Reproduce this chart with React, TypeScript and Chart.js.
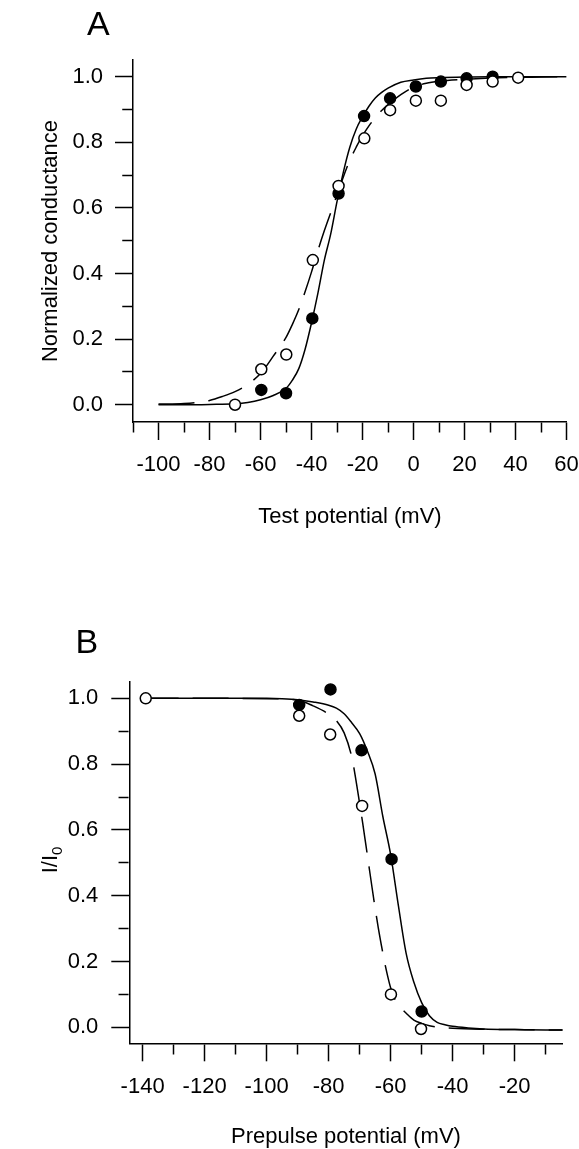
import React, { useEffect, useRef } from "react";
import { Chart, registerables } from "chart.js";

Chart.register(...registerables);

const FONT = "'Liberation Sans', Arial, Helvetica, sans-serif";

// ---------------- Panel A: conductance vs test potential ----------------
const aClosedV = [-59.7, -50, -39.7, -29.4, -19.4, -9.2, 0.9, 10.7, 20.8, 31];
const aClosedG = [0.045, 0.035, 0.263, 0.644, 0.88, 0.934, 0.97, 0.985, 0.995, 1.0];
const aOpenV = [-70, -59.7, -49.9, -39.5, -29.4, -19.3, -9.2, 0.9, 10.7, 20.8, 31, 41];
const aOpenG = [0.0, 0.108, 0.153, 0.441, 0.667, 0.812, 0.898, 0.927, 0.927, 0.975, 0.985, 0.997];

const aFitSolidV = [-100, -90, -80, -70, -65, -60, -55, -50, -47.5, -45, -42.5, -40, -37.5, -35, -32.5, -30, -27.5, -25, -22.5, -20, -17.5, -15, -12.5, -10, -5, 0, 5, 10, 20, 30, 40, 50, 60];
const aFitSolidG = [0.0, 0.0, 0.001, 0.003, 0.007, 0.015, 0.028, 0.05, 0.075, 0.11, 0.17, 0.25, 0.34, 0.44, 0.52, 0.62, 0.71, 0.785, 0.84, 0.878, 0.91, 0.935, 0.952, 0.965, 0.983, 0.99, 0.995, 0.997, 0.999, 1.0, 1.0, 1.0, 1.0];

const aFitDashV = [-100, -90, -85, -80, -75, -70, -65, -60, -57.5, -55, -50, -47.5, -45, -42.5, -40, -37.5, -35, -32.5, -30, -27.5, -25, -22.5, -20, -17.5, -15, -12.5, -10, -5, 0, 5, 10, 20, 30, 40, 50, 60];
const aFitDashG = [0.002, 0.004, 0.007, 0.013, 0.025, 0.04, 0.062, 0.095, 0.12, 0.148, 0.205, 0.245, 0.29, 0.345, 0.405, 0.47, 0.53, 0.585, 0.64, 0.695, 0.745, 0.785, 0.82, 0.85, 0.875, 0.897, 0.915, 0.945, 0.968, 0.98, 0.986, 0.992, 0.996, 0.998, 0.999, 1.0];

const aXLabels = [-100, -80, -60, -40, -20, 0, 20, 40, 60];
const aYLabels = [0, 0.2, 0.4, 0.6, 0.8, 1.0];

// ---------------- Panel B: I/I0 vs prepulse potential ----------------
const bOpenV = [-139, -89.5, -79.5, -69.2, -59.9, -50.2];
const bOpenR = [1.0, 0.947, 0.89, 0.673, 0.1, -0.005];
const bClosedV = [-89.5, -79.4, -69.4, -59.7, -50];
const bClosedR = [0.98, 1.027, 0.842, 0.511, 0.048];

const bFitSolidV = [-140, -120, -100, -95, -90, -85, -80, -77.5, -75, -72.5, -70, -67.5, -65, -62.5, -60, -57.5, -55, -52.5, -50, -47.5, -45, -42.5, -40, -35, -30, -20, -10, -4.5];
const bFitSolidR = [1.0, 1.0, 1.0, 0.999, 0.996, 0.989, 0.979, 0.97, 0.953, 0.925, 0.893, 0.84, 0.77, 0.64, 0.525, 0.37, 0.225, 0.137, 0.075, 0.035, 0.015, 0.008, 0.003, -0.002, -0.005, -0.007, -0.008, -0.008];

const bFitDashV = [-140, -120, -100, -90, -85, -80, -77.5, -75, -72.5, -71, -70, -69, -68, -67, -66, -65, -64, -63, -62, -61, -60, -58.5, -57, -55, -52.5, -50, -47.5, -45, -40, -30, -20, -10, -4.5];
const bFitDashR = [1.0, 1.0, 0.999, 0.995, 0.977, 0.952, 0.932, 0.895, 0.82, 0.74, 0.68, 0.62, 0.555, 0.49, 0.425, 0.362, 0.303, 0.25, 0.2, 0.157, 0.12, 0.083, 0.063, 0.043, 0.022, 0.012, 0.005, 0.001, -0.003, -0.006, -0.007, -0.008, -0.008];

const bXLabels = [-140, -120, -100, -80, -60, -40, -20];
const bYLabels = [0, 0.2, 0.4, 0.6, 0.8, 1.0];

// ---------------------------------------------------------------------
const pts = (xs: number[], ys: number[]) => xs.map((x, i) => ({ x, y: ys[i] }));
const hasLabel = (v: number, labels: number[]) => labels.some((l) => Math.abs(l - v) < 1e-6);

interface PanelOpts {
  xMin: number; xMax: number; yMin: number; yMax: number;
  xLabels: number[]; yLabels: number[];
  yAxisWidth: number; xAxisHeight: number; padTop: number; padRight: number; yTickPad: number;
  openV: number[]; openY: number[]; closedV: number[]; closedY: number[];
  solidV: number[]; solidY: number[]; dashV: number[]; dashY: number[];
}

function makeConfig(o: PanelOpts): any {
  const tickFont = { family: FONT, size: 22 };
  return {
    type: "line",
    data: {
      datasets: [
        {
          data: pts(o.openV, o.openY), showLine: false, order: 0,
          pointRadius: 5.5, pointBorderWidth: 1.5, pointBackgroundColor: "#fff", pointBorderColor: "#000",
        },
        {
          data: pts(o.closedV, o.closedY), showLine: false, order: 1,
          pointRadius: 5.5, pointBorderWidth: 1.5, pointBackgroundColor: "#000", pointBorderColor: "#000",
        },
        {
          data: pts(o.solidV, o.solidY), order: 2, borderColor: "#000", borderWidth: 1.5,
          pointRadius: 0, cubicInterpolationMode: "monotone", fill: false,
        },
        {
          data: pts(o.dashV, o.dashY), order: 3, borderColor: "#000", borderWidth: 1.5,
          borderDash: [36, 14], pointRadius: 0, cubicInterpolationMode: "monotone", fill: false,
        },
      ],
    },
    options: {
      animation: false,
      responsive: false,
      devicePixelRatio: 1,
      events: [],
      layout: { padding: { left: 0, top: o.padTop, right: o.padRight, bottom: 0 } },
      plugins: { legend: { display: false }, tooltip: { enabled: false }, title: { display: false } },
      scales: {
        x: {
          type: "linear", min: o.xMin, max: o.xMax,
          ticks: {
            stepSize: 10, includeBounds: false, autoSkip: false, maxRotation: 0, minRotation: 0,
            padding: 12, color: "#000", font: tickFont,
            callback: (v: number) => (hasLabel(v, o.xLabels) ? String(Math.round(v)) : ""),
          },
          grid: {
            drawOnChartArea: false, drawTicks: true, tickLength: 18, tickWidth: 1.5, tickColor: "#000",
            tickBorderDash: (ctx: any) => (ctx.tick && !hasLabel(ctx.tick.value, o.xLabels) ? [10, 100] : []),
            tickBorderDashOffset: 0,
          },
          border: { display: true, color: "#000", width: 1.5 },
          title: { display: false },
          afterFit: (s: any) => { s.height = o.xAxisHeight; s.paddingLeft = 0; s.paddingRight = 0; },
        },
        y: {
          type: "linear", min: o.yMin, max: o.yMax,
          ticks: {
            stepSize: 0.1, includeBounds: false, autoSkip: false,
            padding: o.yTickPad, color: "#000", font: tickFont,
            callback: (v: number) => (hasLabel(v, o.yLabels) ? v.toFixed(1) : ""),
          },
          grid: {
            drawOnChartArea: false, drawTicks: true, tickLength: 18, tickWidth: 1.5, tickColor: "#000",
            tickBorderDash: (ctx: any) => (ctx.tick && !hasLabel(ctx.tick.value, o.yLabels) ? [10, 100] : []),
            tickBorderDashOffset: 102.75,
          },
          border: { display: true, color: "#000", width: 1.5 },
          title: { display: false },
          afterFit: (s: any) => { s.width = o.yAxisWidth; s.paddingTop = 0; s.paddingBottom = 0; },
        },
      },
    },
  };
}

const textBase: React.CSSProperties = { position: "absolute", whiteSpace: "nowrap", color: "#000", fontFamily: FONT };

export default function App() {
  const refA = useRef<HTMLCanvasElement>(null);
  const refB = useRef<HTMLCanvasElement>(null);

  useEffect(() => {
    const ca = new Chart(refA.current as HTMLCanvasElement, makeConfig({
      xMin: -110, xMax: 60, yMin: -0.0527, yMax: 1.0509,
      xLabels: aXLabels, yLabels: aYLabels,
      yAxisWidth: 133, xAxisHeight: 118, padTop: 60, padRight: 12.4, yTickPad: 12,
      openV: aOpenV, openY: aOpenG, closedV: aClosedV, closedY: aClosedG,
      solidV: aFitSolidV, solidY: aFitSolidG, dashV: aFitDashV, dashY: aFitDashG,
    }));
    const cb = new Chart(refB.current as HTMLCanvasElement, makeConfig({
      xMin: -144.3, xMax: -4.5, yMin: -0.0486, yMax: 1.0505,
      xLabels: bXLabels, yLabels: bYLabels,
      yAxisWidth: 129.3, xAxisHeight: 105.7, padTop: 121.7, padRight: 16.3, yTickPad: 13,
      openV: bOpenV, openY: bOpenR, closedV: bClosedV, closedY: bClosedR,
      solidV: bFitSolidV, solidY: bFitSolidR, dashV: bFitDashV, dashY: bFitDashR,
    }));
    return () => { ca.destroy(); cb.destroy(); };
  }, []);

  return (
    <div style={{ position: "fixed", left: 0, top: 0, width: 579, height: 1149, background: "#fff", overflow: "hidden", fontFamily: FONT }}>
      <canvas ref={refA} width={579} height={540} style={{ position: "absolute", left: 0, top: 0, width: 579, height: 540 }} />
      <canvas ref={refB} width={579} height={589} style={{ position: "absolute", left: 0, top: 560, width: 579, height: 589 }} />

      <div style={{ ...textBase, left: 87, top: 6, fontSize: 34, lineHeight: "34px" }}>A</div>
      <div style={{ ...textBase, left: 75.5, top: 624, fontSize: 34, lineHeight: "34px" }}>B</div>

      <div style={{ ...textBase, left: -150, top: 230, width: 400, height: 22, fontSize: 22, lineHeight: "22px", textAlign: "center", transform: "rotate(-90deg)" }}>
        Normalized conductance
      </div>
      <div style={{ ...textBase, left: -150, top: 849, width: 400, height: 22, fontSize: 22, lineHeight: "22px", textAlign: "center", transform: "rotate(-90deg)" }}>
        I/I<sub style={{ fontSize: 15, lineHeight: "0" }}>0</sub>
      </div>

      <div style={{ ...textBase, left: 150, top: 505, width: 400, fontSize: 22, lineHeight: "22px", textAlign: "center" }}>
        Test potential (mV)
      </div>
      <div style={{ ...textBase, left: 146, top: 1125, width: 400, fontSize: 22, lineHeight: "22px", textAlign: "center" }}>
        Prepulse potential (mV)
      </div>
    </div>
  );
}
